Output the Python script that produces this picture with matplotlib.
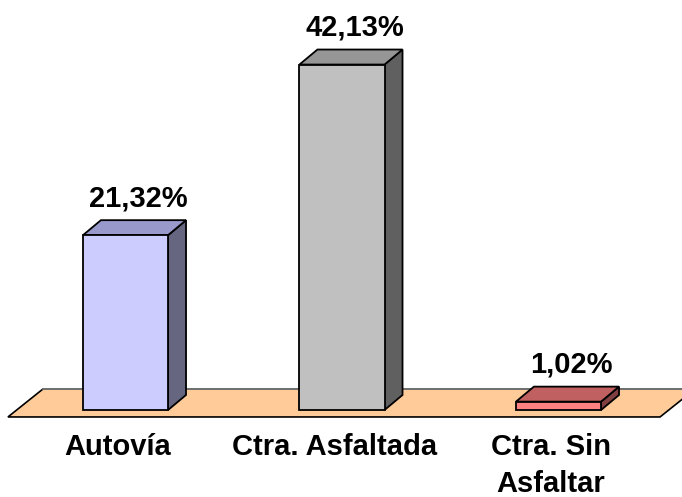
import matplotlib
matplotlib.use("Agg")
import matplotlib.pyplot as plt
import numpy as np
from matplotlib.patches import Polygon

categories = ['Autovía', 'Ctra. Asfaltada', 'Ctra. Sin\nAsfaltar']
values = [21.32, 42.13, 1.02]
value_labels = ['21,32%', '42,13%', '1,02%']
front_colors = ['#CCCCFF', '#C0C0C0', '#FF8080']
top_colors = ['#9999CC', '#969696', '#C06060']
side_colors = ['#666680', '#606060', '#804040']
floor_color = '#FFCC99'

plt.rcParams['font.family'] = ['Liberation Sans', 'DejaVu Sans']

fig = plt.figure(figsize=(6.82, 4.97), dpi=100)
ax = fig.add_axes([0, 0, 1, 1])
ax.set_xlim(-0.5797, 2.5704)
ax.set_ylim(-10.61, 50.0)
ax.axis('off')

x = np.arange(len(categories))
w = 0.393
dx = 0.083
dy = 1.83

# floor
fl, fr = -0.543, 2.469
fy0, fy1 = -0.85, 2.56
fdx = 0.1617
floor = Polygon([(fl, fy0), (fr, fy0), (fr + fdx, fy1), (fl + fdx, fy1)],
                closed=True, facecolor=floor_color, edgecolor='black',
                linewidth=1.2, zorder=1)
ax.add_patch(floor)
ax.plot([fl + fdx, fr + fdx], [fy1, fy1], color='#808080', lw=1.2, zorder=1.5)

# bars
for xi, v, tc, sc in zip(x, values, top_colors, side_colors):
    side = Polygon([(xi + w/2, 0), (xi + w/2 + dx, dy), (xi + w/2 + dx, v + dy), (xi + w/2, v)],
                   closed=True, facecolor=sc, edgecolor='black', linewidth=1.3, zorder=2)
    top = Polygon([(xi - w/2, v), (xi + w/2, v), (xi + w/2 + dx, v + dy), (xi - w/2 + dx, v + dy)],
                  closed=True, facecolor=tc, edgecolor='black', linewidth=1.3, zorder=2)
    ax.add_patch(side)
    ax.add_patch(top)
ax.bar(x, values, width=w, color=front_colors, edgecolor='black', linewidth=1.3, zorder=3)

# value labels
for xi, v, lab in zip(x, values, value_labels):
    ax.text(xi + 0.06, v + 3.5, lab, ha='center', va='baseline',
            fontsize=21, fontweight='bold', zorder=4)

# category labels
for xi, c in zip(x, categories):
    ax.text(xi - 0.035, -2.8, c, ha='center', va='top', fontsize=21,
            fontweight='bold', linespacing=1.42, zorder=4)

fig.savefig('out.png', dpi=100)
